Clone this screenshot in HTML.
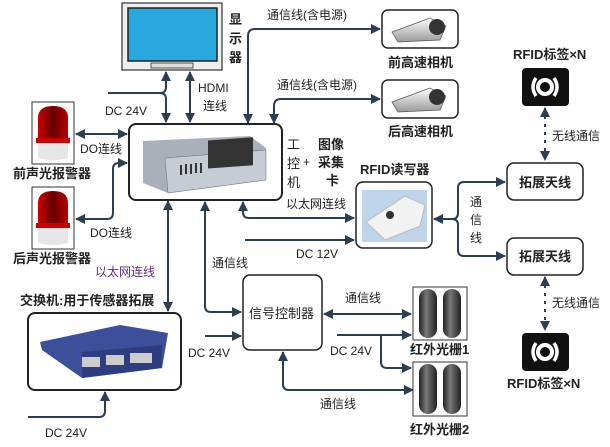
<!DOCTYPE html>
<html><head><meta charset="utf-8"><style>
html,body{margin:0;padding:0;background:#fff;}
svg{display:block;font-family:"Liberation Sans","Noto Sans CJK SC",sans-serif;}
.t{font-size:12px;fill:#222;}
.b{font-size:13px;fill:#222;font-weight:bold;}
.ln{stroke:#2d3e50;stroke-width:2;fill:none;}
</style></head><body>
<svg width="610" height="447" viewBox="0 0 610 447" xmlns="http://www.w3.org/2000/svg">
<defs>
<marker id="a" viewBox="0 0 10 10" refX="9" refY="5" markerWidth="5" markerHeight="5" orient="auto-start-reverse"><path d="M0,0L10,5L0,10z" fill="#2d3e50"/></marker>
<linearGradient id="red" x1="0" x2="1"><stop offset="0" stop-color="#c00"/><stop offset="0.5" stop-color="#600"/><stop offset="1" stop-color="#b00"/></linearGradient>
<linearGradient id="cyl" x1="0" x2="1"><stop offset="0" stop-color="#222"/><stop offset="0.4" stop-color="#777"/><stop offset="1" stop-color="#222"/></linearGradient>
<linearGradient id="cam" x1="0" y1="0" x2="0" y2="1"><stop offset="0" stop-color="#fff"/><stop offset="1" stop-color="#999"/></linearGradient>
</defs>

<!-- Monitor -->
<rect x="122" y="3" width="100" height="67" fill="#eee" stroke="#333" stroke-width="1.2"/>
<rect x="128" y="8" width="89" height="53" fill="#29a8e0" stroke="#222" stroke-width="1.5"/>
<rect x="151" y="63" width="42" height="5" fill="#ddd" stroke="#333" stroke-width="0.8"/>
<text class="b" x="229" y="24">显</text><text class="b" x="229" y="43">示</text><text class="b" x="229" y="62">器</text>

<!-- PC box -->
<rect x="129" y="124" width="153" height="76" rx="7" fill="#fff" stroke="#222" stroke-width="2"/>
<path d="M143,141 L250,136 L266,148 L266,180 L168,193 L143,183z" fill="#a9b0ba"/>
<path d="M165,158 L266,150 L266,180 L168,193z" fill="#c6ccd4" stroke="#666" stroke-width="0.5"/>
<rect x="208" y="155" width="45" height="28" fill="#333" transform="skewY(-4)"/>
<g stroke="#333" stroke-width="2"><line x1="181" y1="165" x2="181" y2="175"/><line x1="186" y1="164" x2="186" y2="174"/><line x1="191" y1="164" x2="191" y2="174"/><line x1="196" y1="163" x2="196" y2="173"/><line x1="201" y1="163" x2="201" y2="173"/></g>
<text class="t" x="287" y="149" style="font-size:13px">工</text><text class="t" x="287" y="168" style="font-size:13px">控</text><text class="t" x="287" y="187" style="font-size:13px">机</text>
<text class="t" x="303" y="166">+</text>
<text class="b" x="318" y="149">图像</text><text class="b" x="318" y="167">采集</text><text class="b" x="326" y="185">卡</text>

<!-- Cameras -->
<rect x="382" y="10" width="76" height="38" rx="6" fill="#fff" stroke="#222" stroke-width="1.5"/>
<path d="M392,32 L430,18 L446,26 L440,40 L398,42z" fill="url(#cam)" stroke="#555" stroke-width="0.7"/>
<circle cx="437" cy="27" r="8" fill="#333"/>
<rect x="382" y="80" width="76" height="38" rx="6" fill="#fff" stroke="#222" stroke-width="1.5"/>
<path d="M392,102 L430,88 L446,96 L440,110 L398,112z" fill="url(#cam)" stroke="#555" stroke-width="0.7"/>
<circle cx="437" cy="97" r="8" fill="#333"/>
<text class="b" x="388" y="67">前高速相机</text>
<text class="b" x="388" y="136">后高速相机</text>
<text class="t" x="267" y="19">通信线(含电源)</text>
<text class="t" x="277" y="89">通信线(含电源)</text>
<path class="ln" d="M248,123 V36 Q248,29 255,29 H380" marker-start="url(#a)" marker-end="url(#a)"/>
<path class="ln" d="M274,123 V106 Q274,99 281,99 H380" marker-start="url(#a)" marker-end="url(#a)"/>

<!-- monitor/PC links -->
<path class="ln" d="M108,93 H160 Q166,93 166,87 V72" marker-end="url(#a)"/>
<path class="ln" d="M160,93 Q166,93 166,99 V122" marker-end="url(#a)"/>
<path class="ln" d="M190,72 V122" marker-start="url(#a)" marker-end="url(#a)"/>
<text class="t" x="198" y="92">HDMI</text><text class="t" x="203" y="110">连线</text>
<text class="t" x="105" y="115">DC 24V</text>

<!-- Alarms -->
<rect x="32" y="102" width="42" height="62" fill="#fff" stroke="#333"/>
<path d="M38,140 V118 Q38,106 53,106 Q68,106 68,118 V140z" fill="url(#red)"/>
<rect x="36" y="138" width="34" height="5" fill="#c00"/>
<path d="M38,143 H68 V158 Q53,162 38,158z" fill="#e6e6e6"/>
<rect x="32" y="187" width="42" height="62" fill="#fff" stroke="#333"/>
<path d="M38,225 V203 Q38,191 53,191 Q68,191 68,203 V225z" fill="url(#red)"/>
<rect x="36" y="223" width="34" height="5" fill="#c00"/>
<path d="M38,228 H68 V243 Q53,247 38,243z" fill="#e6e6e6"/>
<text class="b" x="13" y="178">前声光报警器</text>
<text class="b" x="13" y="263">后声光报警器</text>
<path class="ln" d="M76,134 H127" marker-start="url(#a)" marker-end="url(#a)"/>
<path class="ln" d="M76,219 H107 Q113,219 113,213 V169 Q113,163 119,163 H127" marker-start="url(#a)" marker-end="url(#a)"/>
<text class="t" x="80" y="153">DO连线</text>
<text class="t" x="90" y="237">DO连线</text>

<!-- Switch -->
<text class="b" x="20" y="305">交换机:用于传感器拓展</text>
<rect x="28" y="313" width="153" height="77" rx="7" fill="#fff" stroke="#222" stroke-width="2"/>
<path d="M40,342 L120,325 L168,333 L162,368 L82,378 L42,350z" fill="#3d4f9a"/>
<path d="M82,352 L162,345 L162,368 L82,378z" fill="#2e3d80"/>
<g fill="#ccc"><rect x="82" y="357" width="18" height="10"/><rect x="106" y="355" width="18" height="10"/><rect x="130" y="353" width="22" height="10"/></g>
<text class="t" x="95" y="276" style="fill:#5b2d7a">以太网连线</text>
<path class="ln" d="M168,201 V311" marker-start="url(#a)" marker-end="url(#a)"/>
<path class="ln" d="M28,417 H99 Q105,417 105,411 V392" marker-end="url(#a)"/>
<text class="t" x="45" y="437">DC 24V</text>

<!-- Signal controller -->
<rect x="243" y="275" width="79" height="75" rx="7" fill="#fff" stroke="#222" stroke-width="1.5"/>
<text class="t" x="249" y="318" style="font-size:13px">信号控制器</text>
<path class="ln" d="M205,202 V306 Q205,312 211,312 H241" marker-start="url(#a)" marker-end="url(#a)"/>
<text class="t" x="212" y="267">通信线</text>
<path class="ln" d="M205,336 H241" marker-end="url(#a)"/>
<text class="t" x="188" y="357">DC 24V</text>
<path class="ln" d="M413,390 H289 Q283,390 283,384 V352" marker-start="url(#a)" marker-end="url(#a)"/>
<text class="t" x="320" y="408">通信线</text>
<path class="ln" d="M324,314 H411" marker-start="url(#a)" marker-end="url(#a)"/>
<text class="t" x="345" y="302">通信线</text>
<path class="ln" d="M337,335 H411" marker-end="url(#a)"/>
<path class="ln" d="M381,335 V362 Q381,368 387,368 H411" marker-end="url(#a)"/>
<text class="t" x="330" y="355">DC 24V</text>

<!-- Infrared -->
<rect x="413" y="287" width="54" height="53" fill="#fff" stroke="#333"/>
<rect x="419" y="289" width="18" height="49" rx="9" fill="url(#cyl)"/>
<rect x="443" y="289" width="18" height="49" rx="9" fill="url(#cyl)"/>
<rect x="413" y="362" width="54" height="54" fill="#fff" stroke="#333"/>
<rect x="419" y="364" width="18" height="50" rx="9" fill="url(#cyl)"/>
<rect x="443" y="364" width="18" height="50" rx="9" fill="url(#cyl)"/>
<text class="b" x="410" y="354">红外光栅1</text>
<text class="b" x="410" y="434">红外光栅2</text>

<!-- RFID reader -->
<text class="b" x="360" y="174">RFID读写器</text>
<rect x="356" y="182" width="76" height="66" rx="7" fill="#fff" stroke="#222" stroke-width="1.5"/>
<rect x="362" y="190" width="65" height="52" fill="#bfd3ea"/>
<path d="M366,222 L405,196 L425,205 L420,226 L385,240z" fill="#f2f2f2" stroke="#bbb"/>
<circle cx="390" cy="215" r="4" fill="#333"/>
<path class="ln" d="M243,202 V212 Q243,218 249,218 H354" marker-start="url(#a)" marker-end="url(#a)"/>
<text class="t" x="286" y="208">以太网连线</text>
<path class="ln" d="M245,240 H354" marker-end="url(#a)"/>
<text class="t" x="296" y="258">DC 12V</text>
<path class="ln" d="M434,219 H452 Q458,219 458,213 V188 Q458,182 464,182 H505" marker-start="url(#a)" marker-end="url(#a)"/>
<path class="ln" d="M452,219 Q458,219 458,225 V250 Q458,256 464,256 H505" marker-end="url(#a)"/>
<text class="t" x="470" y="206">通</text><text class="t" x="470" y="224">信</text><text class="t" x="470" y="242">线</text>

<!-- Antennas -->
<rect x="507" y="163" width="76" height="37" rx="7" fill="#fff" stroke="#222" stroke-width="1.5"/>
<text class="b" x="519" y="187">拓展天线</text>
<rect x="507" y="238" width="76" height="37" rx="7" fill="#fff" stroke="#222" stroke-width="1.5"/>
<text class="b" x="519" y="261">拓展天线</text>

<!-- Tags -->
<text class="b" x="513" y="59">RFID标签×N</text>
<rect x="522" y="68" width="47" height="38" rx="4" fill="#111"/>
<circle cx="545" cy="87" r="7" fill="none" stroke="#fff" stroke-width="4"/>
<path d="M536,78 Q530,87 536,96 M554,78 Q560,87 554,96" stroke="#fff" stroke-width="3.5" fill="none"/>
<path class="ln" d="M545,108 V160" stroke-dasharray="3,5" marker-start="url(#a)" marker-end="url(#a)"/>
<text class="t" x="552" y="140">无线通信</text>
<path class="ln" d="M545,277 V330" stroke-dasharray="3,5" marker-start="url(#a)" marker-end="url(#a)"/>
<text class="t" x="552" y="307">无线通信</text>
<rect x="522" y="333" width="47" height="38" rx="4" fill="#111"/>
<circle cx="545" cy="352" r="7" fill="none" stroke="#fff" stroke-width="4"/>
<path d="M536,343 Q530,352 536,361 M554,343 Q560,352 554,361" stroke="#fff" stroke-width="3.5" fill="none"/>
<text class="b" x="507" y="388">RFID标签×N</text>
</svg>
</body></html>
